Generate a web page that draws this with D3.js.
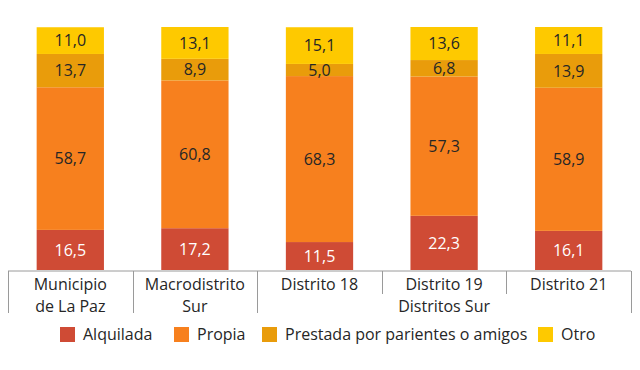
<!DOCTYPE html>
<html lang="es">
<head>
<meta charset="UTF-8">
<script src="https://cdn.jsdelivr.net/npm/d3@7"></script>
<style>
    body { margin: 0; background: #fff; }
    svg { font-family: "Open Sans", sans-serif; }
</style>
</head>
<body>
<svg width="640" height="370"></svg>
<script>
    const categories = ["Municipio de La Paz", "Macrodistrito Sur", "Distrito 18", "Distrito 19", "Distrito 21"];
    const catLines = [["Municipio", "de La Paz"], ["Macrodistrito", "Sur"], ["Distrito 18"], ["Distrito 19"], ["Distrito 21"]];
    const seriesNames = ["Alquilada", "Propia", "Prestada por parientes o amigos", "Otro"];
    const alquilada = [16.5, 17.2, 11.5, 22.3, 16.1];
    const propia = [58.7, 60.8, 68.3, 57.3, 58.9];
    const prestada = [13.7, 8.9, 5.0, 6.8, 13.9];
    const otro = [11.0, 13.1, 15.1, 13.6, 11.1];
    const groupLabel = "Distritos Sur";
    const groupFrom = 2; // índice de la primera categoría del grupo

    const colors = ["#cf4b35", "#f7801e", "#e99c0b", "#fec900"];
    const textColors = ["#ffffff", "#262626", "#262626", "#262626"];

    const LEFT = 8, RIGHT = 631, TOP = 27, BOTTOM = 270;
    const PAD = 0.46;
    const FONT = 16;

    const data = categories.map((c, i) => ({
        cat: c,
        Alquilada: alquilada[i],
        Propia: propia[i],
        "Prestada por parientes o amigos": prestada[i],
        Otro: otro[i]
    }));

    const svg = d3.select("svg");

    const x = d3.scaleBand()
        .domain(categories)
        .range([LEFT, RIGHT])
        .paddingInner(PAD)
        .paddingOuter(PAD / 2);

    const y = d3.scaleLinear()
        .domain([0, 100])
        .range([BOTTOM, TOP]);

    const stack = d3.stack().keys(seriesNames)(data);

    const layers = svg.selectAll("g.layer")
        .data(stack)
        .enter()
        .append("g")
        .attr("class", "layer")
        .attr("fill", (d, i) => colors[i]);

    layers.selectAll("rect")
        .data(d => d)
        .enter()
        .append("rect")
        .attr("x", d => x(d.data.cat))
        .attr("y", d => y(d[1]))
        .attr("width", x.bandwidth())
        .attr("height", d => y(d[0]) - y(d[1]));

    layers.selectAll("text")
        .data(d => d)
        .enter()
        .append("text")
        .attr("x", d => x(d.data.cat) + x.bandwidth() / 2)
        .attr("y", d => (y(d[0]) + y(d[1])) / 2)
        .attr("dy", "0.36em")
        .attr("text-anchor", "middle")
        .attr("font-size", FONT)
        .attr("fill", function () {
            const i = stack.indexOf(d3.select(this.parentNode).datum());
            return textColors[i];
        })
        .text(d => d3.format(".1f")(d[1] - d[0]).replace(".", ","));

    // eje de categorías
    const step = x.step();
    const cellLeft = c => x(c) - step * PAD / 2;
    const axisY = BOTTOM + 1;
    const lineColor = "#9a9a9a";

    svg.append("line")
        .attr("x1", LEFT).attr("x2", RIGHT)
        .attr("y1", axisY).attr("y2", axisY)
        .attr("stroke", lineColor);

    const bounds = categories.map(cellLeft).concat([RIGHT]);
    bounds.forEach((bx, i) => {
        const inner = i > groupFrom && i < categories.length;
        svg.append("line")
            .attr("x1", Math.round(bx) + 0.5).attr("x2", Math.round(bx) + 0.5)
            .attr("y1", axisY).attr("y2", inner ? 294 : 313)
            .attr("stroke", lineColor);
    });

    const labels = svg.selectAll("text.cat")
        .data(categories)
        .enter()
        .append("text")
        .attr("class", "cat")
        .attr("text-anchor", "middle")
        .attr("font-size", FONT)
        .attr("fill", "#262626")
        .attr("x", d => x(d) + x.bandwidth() / 2)
        .attr("y", 290);

    labels.selectAll("tspan")
        .data((d, i) => catLines[i])
        .enter()
        .append("tspan")
        .attr("x", function () { return d3.select(this.parentNode).attr("x"); })
        .attr("dy", (d, i) => i === 0 ? 0 : 22)
        .text(d => d);

    svg.append("text")
        .attr("text-anchor", "middle")
        .attr("font-size", FONT)
        .attr("fill", "#262626")
        .attr("x", (cellLeft(categories[groupFrom]) + RIGHT) / 2)
        .attr("y", 312)
        .text(groupLabel);

    // leyenda
    const legendX = [60, 174, 262, 538];
    const legend = svg.selectAll("g.legend")
        .data(seriesNames)
        .enter()
        .append("g")
        .attr("class", "legend")
        .attr("transform", (d, i) => `translate(${legendX[i]}, 327)`);

    legend.append("rect")
        .attr("width", 15)
        .attr("height", 15)
        .attr("fill", (d, i) => colors[i]);

    legend.append("text")
        .attr("x", 23)
        .attr("y", 7.5)
        .attr("dy", "0.36em")
        .attr("font-size", FONT)
        .attr("fill", "#262626")
        .text(d => d);
</script>
</body>
</html>
